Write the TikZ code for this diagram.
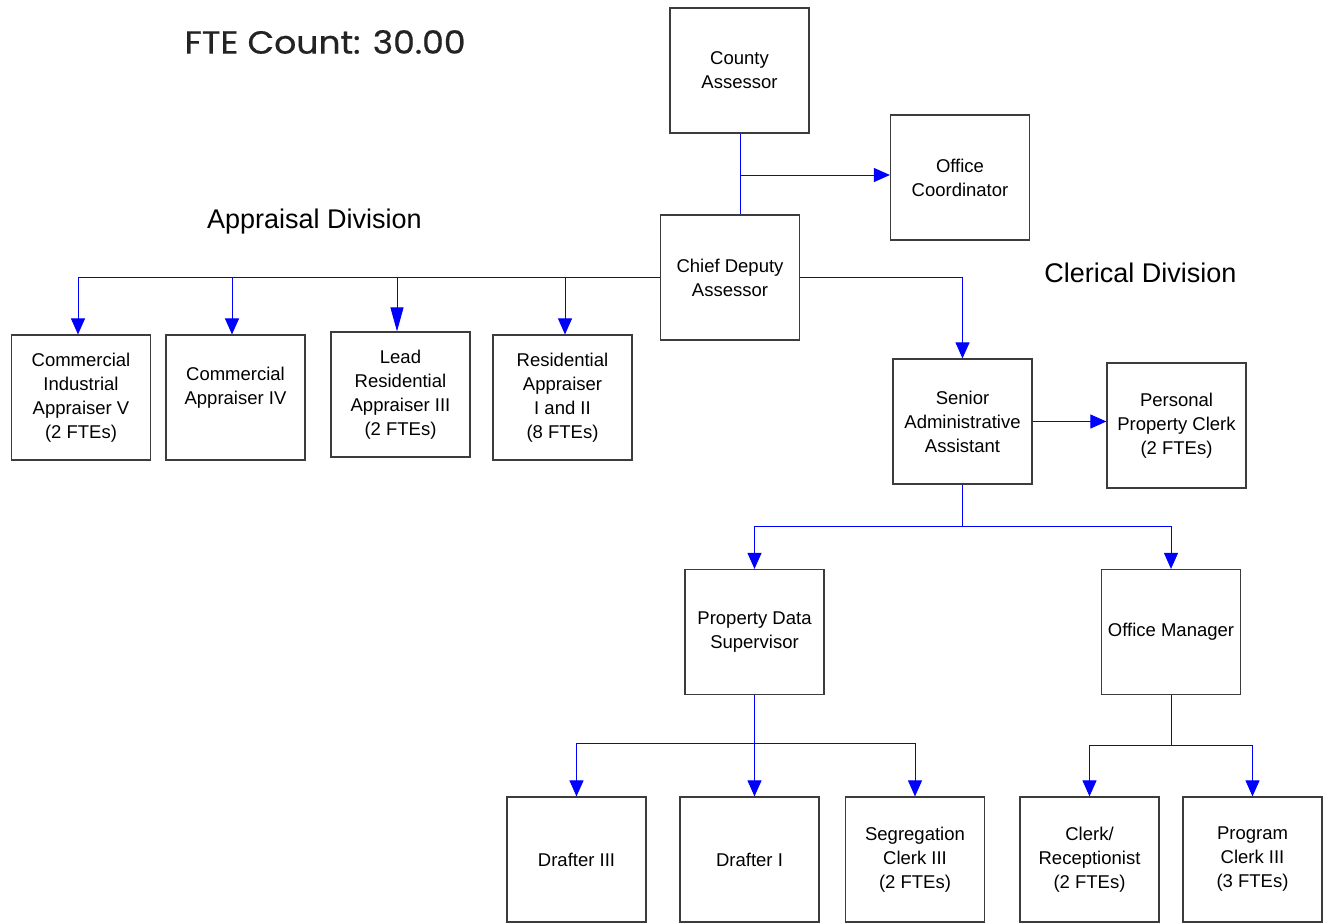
\documentclass[tikz,border=0pt]{standalone}
\usepackage{fontspec}
\setmainfont{Liberation Sans}
\newfontfamily\geofont[FakeBold=0.6]{Poppins}
\usetikzlibrary{arrows.meta,calc}
\definecolor{boxline}{RGB}{60,60,60}
\definecolor{conn}{RGB}{0,0,255}
\tikzset{
  box/.style={draw=boxline, line width=1.2pt, minimum width=139pt, minimum height=125pt,
    inner sep=0pt, align=center, font=\fontsize{18.5}{24}\selectfont},
  conline/.style={draw=conn, line width=1pt},
  arr/.style={conline, -{Triangle[length=16pt,width=14pt]}},
  bigarr/.style={conline, -{Triangle[length=24pt,width=13pt]}},
  divlabel/.style={font=\fontsize{27}{32}\selectfont, inner sep=0pt},
}
\begin{document}
\begin{tikzpicture}[x=1pt,y=-1pt]
\useasboundingbox (0,0) rectangle (1323,922);
\fill[white] (0,0) rectangle (1323,922);

% titles
\node[font=\geofont\fontsize{32}{36}\selectfont, xscale=1.08, text={rgb,255:red,35;green,35;blue,35}, inner sep=0pt] (fte) at (325,42) {FTE Count: 30.00};
\node[divlabel] (appdiv) at (314.5,222) {Appraisal Division};
\node[divlabel] (cledv) at (1140.5,273) {Clerical Division};

% boxes
\node[box] (CA) at (739.5,70.5) {County\\Assessor};
\node[box] (OC) at (960,177.5) {Office\\Coordinator};
\node[box] (CD) at (730,277.5) {Chief Deputy\\Assessor};
\node[box] (CI) at (81,397.5) {Commercial\\Industrial\\Appraiser V\\(2 FTEs)};
\node[box] (C4) at (235.5,397.5) {Commercial\\Appraiser IV\\\mbox{}};
\node[box] (LR) at (400.5,394.5) {Lead\\Residential\\Appraiser III\\(2 FTEs)};
\node[box] (RA) at (562.5,397.5) {Residential\\Appraiser\\I and II\\(8 FTEs)};
\node[box] (SA) at (962.5,421.5) {Senior\\Administrative\\Assistant};
\node[box] (PP) at (1176.5,425.5) {Personal\\Property Clerk\\(2 FTEs)};
\node[box] (PD) at (754.5,632) {Property Data\\Supervisor};
\node[box] (OM) at (1171,632) {Office Manager};
\node[box] (D3) at (576.5,859.5) {Drafter III};
\node[box] (D1) at (749.5,859.5) {Drafter I};
\node[box] (SC) at (915,859.5) {Segregation\\Clerk III\\(2 FTEs)};
\node[box] (CR) at (1089.5,859.5) {Clerk/\\Receptionist\\(2 FTEs)};
\node[box] (PC) at (1252.5,859.5) {Program\\Clerk III\\(3 FTEs)};

% junctions
\coordinate (j1) at (740,175);
\coordinate (j2) at (962.5,526);
\coordinate (j3) at (754.5,743);
\coordinate (j4) at (1171,745);

% connectors
\draw[conline] (CA.south -| j1) -- (CD.north -| j1);
\draw[arr] (j1) -- (j1 -| OC.west);

\draw[arr] (CD.west) -| ([xshift=-3pt]CI.north);
\draw[arr] (CD.west) -| ([xshift=-3.5pt]C4.north);
\draw[bigarr] (CD.west) -| ([xshift=-3.5pt]LR.north);
\draw[arr] (CD.west) -| ([xshift=2.5pt]RA.north);

\draw[arr] (CD.east) -| (SA.north);
\draw[arr] (SA.east) -- (SA.east -| PP.west);

\draw[conline] (SA.south) -- (j2);
\draw[arr] (j2) -| (PD.north);
\draw[arr] (j2) -| (OM.north);

\draw[conline] (PD.south) -- (j3);
\draw[arr] (j3) -| (D3.north);
\draw[arr] (j3) -- (j3 |- D1.north);
\draw[arr] (j3) -| (SC.north);

\draw[conline] (OM.south) -- (j4);
\draw[arr] (j4) -| (CR.north);
\draw[arr] (j4) -| (PC.north);
\end{tikzpicture}
\end{document}
